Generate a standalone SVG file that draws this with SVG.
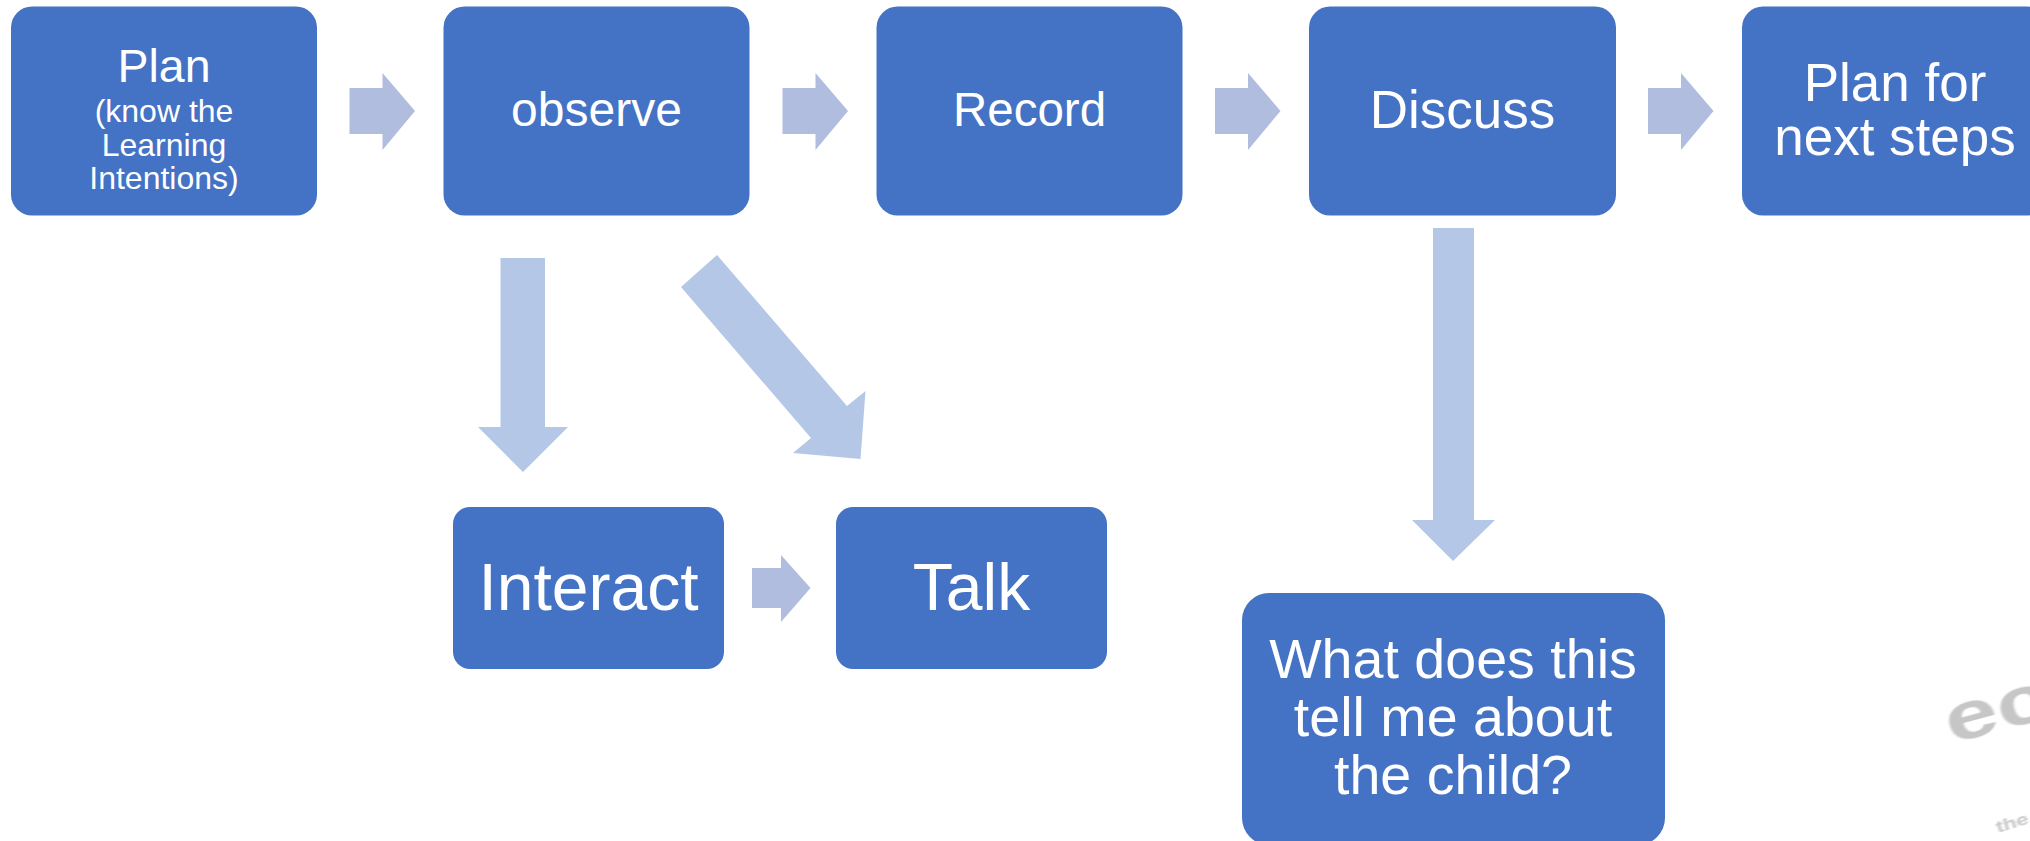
<svg xmlns="http://www.w3.org/2000/svg" width="2030" height="841" viewBox="0 0 2030 841">
<defs><filter id="soft" x="-20%" y="-20%" width="140%" height="140%"><feGaussianBlur stdDeviation="0.7"/></filter></defs>
<style>
.n{fill:#4472c4}
.a{fill:#b0bddf}
.d{fill:#b4c7e7}
text{font-family:"Liberation Sans",Arial,sans-serif;fill:#fff;text-anchor:middle}
.t32{font-size:32px}.t53{font-size:53px}.t56{font-size:55.6px}
.logo{fill:#c6c6c6;font-weight:bold;text-anchor:start;filter:url(#soft)}
</style>
<rect width="2030" height="841" fill="#fff"/>
<g id="connectors">
<polygon class="a" points="349.500,88 382.500,88 382.500,73 415,111 382.500,150 382.500,134 349.500,134"/>
<polygon class="a" points="782.500,88 815.500,88 815.500,73 848,111 815.500,150 815.500,134 782.500,134"/>
<polygon class="a" points="1215,88 1248,88 1248,73 1280.500,111 1248,150 1248,134 1215,134"/>
<polygon class="a" points="1648,88 1681,88 1681,73 1713.500,111 1681,150 1681,134 1648,134"/>
<polygon class="a" points="752,568 781,568 781,555 810.500,588 781,622 781,608 752,608"/>
<polygon class="d" points="500.500,258 545,258 545,427 568,427 523,472 478,427 500.500,427"/>
<polygon class="d" points="1433,228 1474,228 1474,520 1495,520 1453,561 1412,520 1433,520"/>
<polygon class="d" points="681,287 717,255 847,406 865.500,391 860.500,459 793,453 811,438"/>
</g>
<g id="node-plan"><rect class="n" x="11" y="6.500" width="306" height="209" rx="21"/>
<text x="164" y="82" font-size="46.500">Plan</text>
<text class="t32" x="164" y="122">(know the</text>
<text class="t32" x="164" y="156">Learning</text>
<text class="t32" x="164" y="189">Intentions)</text></g>
<g id="node-observe"><rect class="n" x="443.500" y="6.500" width="306" height="209" rx="21"/><text x="596.500" y="126" font-size="48">observe</text></g>
<g id="node-record"><rect class="n" x="876.500" y="6.500" width="306" height="209" rx="21"/><text x="1029.500" y="126" font-size="47.500">Record</text></g>
<g id="node-discuss"><rect class="n" x="1309" y="6.500" width="307" height="209" rx="21"/><text x="1462.500" y="128" font-size="53">Discuss</text></g>
<g id="node-next"><rect class="n" x="1742" y="6.500" width="306" height="209" rx="21"/>
<text class="t53" x="1895" y="101">Plan for</text><text class="t53" x="1895" y="155">next steps</text></g>
<g id="node-interact"><rect class="n" x="453" y="507" width="271" height="162" rx="17"/><text x="588.500" y="610" font-size="66">Interact</text></g>
<g id="node-talk"><rect class="n" x="836" y="507" width="271" height="162" rx="17"/><text x="971.500" y="610" font-size="66">Talk</text></g>
<g id="node-child"><rect class="n" x="1242" y="593" width="423" height="252" rx="27"/>
<text class="t56" x="1453" y="678">What does this</text><text class="t56" x="1453" y="736">tell me about</text><text class="t56" x="1453" y="794">the child?</text></g>
<text class="logo" transform="translate(1951,744) rotate(-15) scale(1.4,1)" font-size="68">ec</text>
<text class="logo" transform="translate(1998,833) rotate(-17) scale(1.3,1)" font-size="17">the</text>
</svg>
